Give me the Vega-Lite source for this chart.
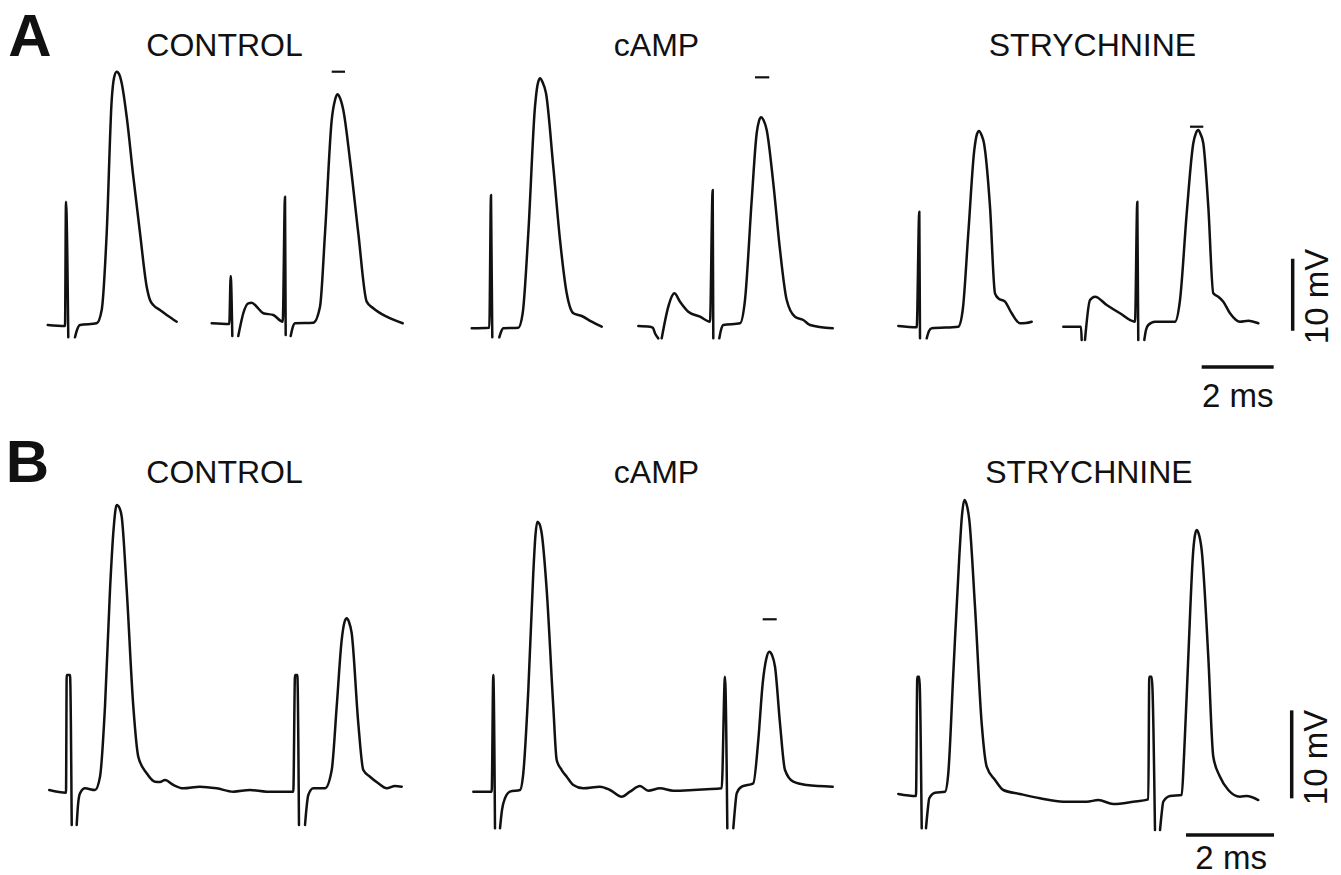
{
"$schema": "https://vega.github.io/schema/vega-lite/v6.json",
"background": "white",
"padding": 0,
"spacing": 0,
"bounds": "flush",
"config": {"view": {"stroke": null}, "font": "Liberation Sans"},
"datasets": {
"traceA": [
{"s":"A1a","t":1.325,"v":0},{"s":"A1a","t":1.806,"v":-0.14},{"s":"A1a","t":1.833,"v":17.13},{"s":"A1a","t":1.897,"v":-1.71},
{"s":"A1b","t":2.083,"v":-1.71},{"s":"A1b","t":2.139,"v":-0.69},{"s":"A1b","t":2.222,"v":0},{"s":"A1b","t":2.686,"v":0.24},{"s":"A1b","t":2.825,"v":2.08},{"s":"A1b","t":2.964,"v":12.78},{"s":"A1b","t":3.103,"v":31.25},{"s":"A1b","t":3.167,"v":34.31},{"s":"A1b","t":3.242,"v":35.18},{"s":"A1b","t":3.319,"v":34.72},{"s":"A1b","t":3.381,"v":33.57},{"s":"A1b","t":3.519,"v":28.93},{"s":"A1b","t":3.703,"v":20.6},{"s":"A1b","t":3.889,"v":12.78},{"s":"A1b","t":4.075,"v":5.32},{"s":"A1b","t":4.167,"v":3.47},{"s":"A1b","t":4.258,"v":2.78},{"s":"A1b","t":4.444,"v":2.08},{"s":"A1b","t":4.631,"v":1.39},{"s":"A1b","t":4.908,"v":0.46},
{"s":"A2a","t":5.881,"v":0.24},{"s":"A2a","t":6.369,"v":0.14},{"s":"A2a","t":6.408,"v":6.81},{"s":"A2a","t":6.453,"v":-1.53},
{"s":"A2b","t":6.619,"v":-1.53},{"s":"A2b","t":6.681,"v":0},{"s":"A2b","t":6.758,"v":1.63},{"s":"A2b","t":6.897,"v":3.01},{"s":"A2b","t":6.992,"v":3.1},{"s":"A2b","t":7.131,"v":2.54},{"s":"A2b","t":7.314,"v":1.63},{"s":"A2b","t":7.592,"v":1.39},{"s":"A2b","t":7.853,"v":0.46},{"s":"A2b","t":7.917,"v":17.82},{"s":"A2b","t":7.936,"v":-1.39},
{"s":"A2c","t":8.075,"v":-1.53},{"s":"A2c","t":8.125,"v":-0.42},{"s":"A2c","t":8.194,"v":0.24},{"s":"A2c","t":8.703,"v":0.32},{"s":"A2c","t":8.889,"v":2.54},{"s":"A2c","t":9.028,"v":12.74},{"s":"A2c","t":9.214,"v":28.47},{"s":"A2c","t":9.306,"v":31.25},{"s":"A2c","t":9.369,"v":32.04},{"s":"A2c","t":9.444,"v":31.53},{"s":"A2c","t":9.536,"v":29.86},{"s":"A2c","t":9.722,"v":22.92},{"s":"A2c","t":9.953,"v":12.74},{"s":"A2c","t":10.186,"v":3.24},{"s":"A2c","t":10.369,"v":2.32},{"s":"A2c","t":10.742,"v":1.15},{"s":"A2c","t":11.186,"v":0.24},
{"s":"A3a","t":13.103,"v":-0.46},{"s":"A3a","t":13.592,"v":-0.38},{"s":"A3a","t":13.639,"v":18.06},{"s":"A3a","t":13.675,"v":-1.71},
{"s":"A3b","t":13.869,"v":-1.71},{"s":"A3b","t":13.917,"v":-0.97},{"s":"A3b","t":13.981,"v":-0.46},{"s":"A3b","t":14.397,"v":-0.38},{"s":"A3b","t":14.519,"v":1.63},{"s":"A3b","t":14.675,"v":12.74},{"s":"A3b","t":14.861,"v":30.32},{"s":"A3b","t":14.931,"v":33.33},{"s":"A3b","t":15.0,"v":34.26},{"s":"A3b","t":15.069,"v":33.75},{"s":"A3b","t":15.167,"v":32.18},{"s":"A3b","t":15.369,"v":21.99},{"s":"A3b","t":15.556,"v":11.81},{"s":"A3b","t":15.742,"v":4.4},{"s":"A3b","t":15.925,"v":1.63},{"s":"A3b","t":16.158,"v":1.25},{"s":"A3b","t":16.436,"v":0.46},{"s":"A3b","t":16.714,"v":-0.24},
{"s":"A4a","t":17.731,"v":-0.14},{"s":"A4a","t":18.056,"v":-0.24},{"s":"A4a","t":18.139,"v":-0.42},{"s":"A4a","t":18.194,"v":-1.15},{"s":"A4a","t":18.286,"v":-1.85},
{"s":"A4b","t":18.381,"v":-1.85},{"s":"A4b","t":18.564,"v":2.54},{"s":"A4b","t":18.667,"v":4.03},{"s":"A4b","t":18.731,"v":4.4},{"s":"A4b","t":18.889,"v":3.24},{"s":"A4b","t":19.119,"v":1.85},{"s":"A4b","t":19.444,"v":1.15},{"s":"A4b","t":19.722,"v":0.46},{"s":"A4b","t":19.797,"v":18.75},{"s":"A4b","t":19.814,"v":-1.85},
{"s":"A4c","t":19.981,"v":-1.85},{"s":"A4c","t":20.028,"v":-0.69},{"s":"A4c","t":20.092,"v":0},{"s":"A4c","t":20.556,"v":0.24},{"s":"A4c","t":20.694,"v":3.47},{"s":"A4c","t":20.881,"v":17.36},{"s":"A4c","t":21.019,"v":26.63},{"s":"A4c","t":21.083,"v":28.33},{"s":"A4c","t":21.139,"v":28.85},{"s":"A4c","t":21.208,"v":28.47},{"s":"A4c","t":21.297,"v":27.08},{"s":"A4c","t":21.481,"v":19.68},{"s":"A4c","t":21.667,"v":10.42},{"s":"A4c","t":21.853,"v":3.47},{"s":"A4c","t":22.083,"v":1.15},{"s":"A4c","t":22.314,"v":0.69},{"s":"A4c","t":22.5,"v":0},{"s":"A4c","t":23.131,"v":-0.46},
{"s":"A5a","t":24.953,"v":-0.14},{"s":"A5a","t":25.464,"v":-0.32},{"s":"A5a","t":25.536,"v":15.74},{"s":"A5a","t":25.556,"v":-1.85},
{"s":"A5b","t":25.742,"v":-1.85},{"s":"A5b","t":25.806,"v":-0.83},{"s":"A5b","t":25.881,"v":-0.46},{"s":"A5b","t":26.619,"v":-0.24},{"s":"A5b","t":26.742,"v":2.08},{"s":"A5b","t":26.897,"v":12.74},{"s":"A5b","t":27.064,"v":24.31},{"s":"A5b","t":27.139,"v":26.53},{"s":"A5b","t":27.194,"v":26.94},{"s":"A5b","t":27.264,"v":26.39},{"s":"A5b","t":27.333,"v":25.24},{"s":"A5b","t":27.5,"v":16.43},{"s":"A5b","t":27.639,"v":4.4},{"s":"A5b","t":27.731,"v":3.71},{"s":"A5b","t":27.917,"v":3.24},{"s":"A5b","t":28.103,"v":1.63},{"s":"A5b","t":28.333,"v":0.24},{"s":"A5b","t":28.5,"v":0.28},{"s":"A5b","t":28.658,"v":0.46},
{"s":"A6a","t":29.536,"v":-0.24},{"s":"A6a","t":30.028,"v":-0.24},{"s":"A6a","t":30.047,"v":-2.08},
{"s":"A6b","t":30.139,"v":-2.08},{"s":"A6b","t":30.278,"v":3.47},{"s":"A6b","t":30.417,"v":3.93},{"s":"A6b","t":30.742,"v":2.78},{"s":"A6b","t":31.111,"v":1.63},{"s":"A6b","t":31.528,"v":0.46},{"s":"A6b","t":31.592,"v":17.13},{"s":"A6b","t":31.619,"v":-2.08},
{"s":"A6c","t":31.786,"v":-2.08},{"s":"A6c","t":31.833,"v":-0.69},{"s":"A6c","t":31.897,"v":0},{"s":"A6c","t":32.083,"v":0.46},{"s":"A6c","t":32.639,"v":0.46},{"s":"A6c","t":32.778,"v":3.47},{"s":"A6c","t":32.964,"v":15.51},{"s":"A6c","t":33.147,"v":25.24},{"s":"A6c","t":33.222,"v":26.67},{"s":"A6c","t":33.286,"v":27.08},{"s":"A6c","t":33.347,"v":26.53},{"s":"A6c","t":33.425,"v":25.24},{"s":"A6c","t":33.564,"v":16.43},{"s":"A6c","t":33.703,"v":4.4},{"s":"A6c","t":33.842,"v":3.93},{"s":"A6c","t":33.981,"v":3.24},{"s":"A6c","t":34.167,"v":1.63},{"s":"A6c","t":34.444,"v":0.46},{"s":"A6c","t":34.675,"v":0.6},{"s":"A6c","t":34.953,"v":0.24}
],
"traceB": [
{"s":"B1a","t":1.12,"v":0},{"s":"B1a","t":1.5,"v":-0.31},{"s":"B1a","t":1.516,"v":13.07},{"s":"B1a","t":1.591,"v":13.07},{"s":"B1a","t":1.63,"v":-3.98},
{"s":"B1b","t":1.743,"v":-3.98},{"s":"B1b","t":1.773,"v":-1.7},{"s":"B1b","t":1.818,"v":-0.38},{"s":"B1b","t":1.932,"v":0.19},{"s":"B1b","t":2.159,"v":0},{"s":"B1b","t":2.273,"v":1.51},{"s":"B1b","t":2.386,"v":9.47},{"s":"B1b","t":2.5,"v":22.73},{"s":"B1b","t":2.58,"v":29.55},{"s":"B1b","t":2.652,"v":32.39},{"s":"B1b","t":2.716,"v":32.05},{"s":"B1b","t":2.766,"v":31.06},{"s":"B1b","t":2.88,"v":22.73},{"s":"B1b","t":3.03,"v":9.47},{"s":"B1b","t":3.143,"v":3.78},{"s":"B1b","t":3.334,"v":1.9},{"s":"B1b","t":3.523,"v":0.94},{"s":"B1b","t":3.636,"v":0.91},{"s":"B1b","t":3.75,"v":1.14},{"s":"B1b","t":3.939,"v":0.57},{"s":"B1b","t":4.166,"v":0.19},{"s":"B1b","t":4.545,"v":0.38},{"s":"B1b","t":4.925,"v":0.19},{"s":"B1b","t":5.302,"v":-0.19},{"s":"B1b","t":5.682,"v":0},{"s":"B1b","t":6.061,"v":-0.19},{"s":"B1b","t":6.666,"v":-0.19},{"s":"B1b","t":6.705,"v":13.07},{"s":"B1b","t":6.757,"v":13.07},{"s":"B1b","t":6.795,"v":-3.98},
{"s":"B1c","t":6.932,"v":-3.98},{"s":"B1c","t":6.966,"v":-2.05},{"s":"B1c","t":7.007,"v":-0.57},{"s":"B1c","t":7.12,"v":0.19},{"s":"B1c","t":7.386,"v":0.19},{"s":"B1c","t":7.539,"v":2.27},{"s":"B1c","t":7.652,"v":9.47},{"s":"B1c","t":7.766,"v":17.05},{"s":"B1c","t":7.83,"v":19.09},{"s":"B1c","t":7.88,"v":19.51},{"s":"B1c","t":7.932,"v":19.09},{"s":"B1c","t":7.993,"v":17.81},{"s":"B1c","t":8.143,"v":7.58},{"s":"B1c","t":8.257,"v":2.27},{"s":"B1c","t":8.409,"v":1.51},{"s":"B1c","t":8.598,"v":0.76},{"s":"B1c","t":8.789,"v":0.19},{"s":"B1c","t":8.977,"v":0.45},{"s":"B1c","t":9.13,"v":0.38},
{"s":"B3a","t":10.757,"v":-0.19},{"s":"B3a","t":11.175,"v":-0.19},{"s":"B3a","t":11.211,"v":13.07},{"s":"B3a","t":11.25,"v":-4.35},
{"s":"B3b","t":11.364,"v":-4.35},{"s":"B3b","t":11.409,"v":-2.27},{"s":"B3b","t":11.477,"v":-0.94},{"s":"B3b","t":11.591,"v":-0.19},{"s":"B3b","t":11.818,"v":0},{"s":"B3b","t":11.893,"v":1.9},{"s":"B3b","t":12.007,"v":11.36},{"s":"B3b","t":12.12,"v":24.63},{"s":"B3b","t":12.17,"v":28.98},{"s":"B3b","t":12.211,"v":30.49},{"s":"B3b","t":12.261,"v":30.23},{"s":"B3b","t":12.311,"v":29.17},{"s":"B3b","t":12.425,"v":22.73},{"s":"B3b","t":12.575,"v":9.47},{"s":"B3b","t":12.652,"v":3.41},{"s":"B3b","t":12.766,"v":2.27},{"s":"B3b","t":12.88,"v":1.51},{"s":"B3b","t":13.03,"v":0.57},{"s":"B3b","t":13.257,"v":0.19},{"s":"B3b","t":13.636,"v":0.38},{"s":"B3b","t":13.864,"v":0},{"s":"B3b","t":14.13,"v":-0.76},{"s":"B3b","t":14.318,"v":-0.19},{"s":"B3b","t":14.545,"v":0.45},{"s":"B3b","t":14.734,"v":-0.08},{"s":"B3b","t":15.0,"v":0.19},{"s":"B3b","t":15.302,"v":-0.08},{"s":"B3b","t":15.757,"v":0},{"s":"B3b","t":16.061,"v":0.08},{"s":"B3b","t":16.402,"v":0.19},{"s":"B3b","t":16.477,"v":12.88},{"s":"B3b","t":16.53,"v":-4.35},
{"s":"B3c","t":16.666,"v":-4.35},{"s":"B3c","t":16.705,"v":-2.05},{"s":"B3c","t":16.743,"v":-0.38},{"s":"B3c","t":16.857,"v":0.38},{"s":"B3c","t":17.12,"v":0.76},{"s":"B3c","t":17.234,"v":5.68},{"s":"B3c","t":17.334,"v":12.13},{"s":"B3c","t":17.42,"v":15.0},{"s":"B3c","t":17.484,"v":15.72},{"s":"B3c","t":17.545,"v":15.34},{"s":"B3c","t":17.614,"v":14.01},{"s":"B3c","t":17.727,"v":7.58},{"s":"B3c","t":17.841,"v":2.27},{"s":"B3c","t":18.03,"v":0.94},{"s":"B3c","t":18.334,"v":0.57},{"s":"B3c","t":18.925,"v":0.38},
{"s":"B5a","t":20.416,"v":-0.45},{"s":"B5a","t":20.818,"v":-0.68},{"s":"B5a","t":20.848,"v":12.88},{"s":"B5a","t":20.893,"v":12.88},{"s":"B5a","t":20.948,"v":-4.35},
{"s":"B5b","t":21.045,"v":-4.35},{"s":"B5b","t":21.08,"v":-2.5},{"s":"B5b","t":21.12,"v":-0.94},{"s":"B5b","t":21.25,"v":-0.31},{"s":"B5b","t":21.477,"v":-0.19},{"s":"B5b","t":21.552,"v":1.9},{"s":"B5b","t":21.666,"v":13.26},{"s":"B5b","t":21.802,"v":26.51},{"s":"B5b","t":21.864,"v":31.25},{"s":"B5b","t":21.916,"v":32.95},{"s":"B5b","t":21.966,"v":32.5},{"s":"B5b","t":22.03,"v":30.68},{"s":"B5b","t":22.159,"v":20.83},{"s":"B5b","t":22.311,"v":7.58},{"s":"B5b","t":22.425,"v":2.65},{"s":"B5b","t":22.614,"v":1.14},{"s":"B5b","t":22.802,"v":0},{"s":"B5b","t":23.182,"v":-0.45},{"s":"B5b","t":23.636,"v":-0.94},{"s":"B5b","t":24.166,"v":-1.33},{"s":"B5b","t":24.698,"v":-1.33},{"s":"B5b","t":24.961,"v":-1.14},{"s":"B5b","t":25.302,"v":-1.59},{"s":"B5b","t":25.757,"v":-1.33},{"s":"B5b","t":26.098,"v":-1.06},{"s":"B5b","t":26.12,"v":12.88},{"s":"B5b","t":26.175,"v":12.88},{"s":"B5b","t":26.25,"v":-4.55},
{"s":"B5c","t":26.364,"v":-4.55},{"s":"B5c","t":26.398,"v":-2.84},{"s":"B5c","t":26.439,"v":-1.33},{"s":"B5c","t":26.591,"v":-0.68},{"s":"B5c","t":26.857,"v":-0.57},{"s":"B5c","t":26.909,"v":3.78},{"s":"B5c","t":27.007,"v":15.15},{"s":"B5c","t":27.12,"v":27.27},{"s":"B5c","t":27.159,"v":28.98},{"s":"B5c","t":27.198,"v":29.55},{"s":"B5c","t":27.239,"v":29.2},{"s":"B5c","t":27.311,"v":27.27},{"s":"B5c","t":27.461,"v":15.15},{"s":"B5c","t":27.575,"v":3.78},{"s":"B5c","t":27.727,"v":1.51},{"s":"B5c","t":27.916,"v":0},{"s":"B5c","t":28.182,"v":-0.76},{"s":"B5c","t":28.334,"v":-0.68},{"s":"B5c","t":28.598,"v":-1.14}
],
"markA": [{"t":9.214,"t2":9.583,"v":35.18},{"t":20.972,"t2":21.369,"v":34.4},{"t":33.056,"t2":33.425,"v":27.54}],
"markB": [{"t":17.334,"t2":17.652,"v":19.4}],
"barA": [{"t":35.908,"t2":35.908,"v":-0.8,"v2":9.2},{"t":33.38,"t2":35.38,"v":-5.83,"v2":-5.83}],
"barB": [{"t":29.357,"t2":29.357,"v":-0.95,"v2":9.05},{"t":26.955,"t2":28.955,"v":-5.11,"v2":-5.11}],
"letterA": [{"label":"A","t":0.833,"v":37.36}],
"letterB": [{"label":"B","t":0.625,"v":35.0}],
"titleA": [{"label":"CONTROL","t":6.236,"v":37.36},{"label":"cAMP","t":18.236,"v":37.36},{"label":"STRYCHNINE","t":30.347,"v":37.36}],
"titleB": [{"label":"CONTROL","t":5.102,"v":34.89},{"label":"cAMP","t":14.92,"v":34.89},{"label":"STRYCHNINE","t":24.75,"v":34.89}],
"unitA": [{"label":"2 ms","t":34.38,"v":-11.35},{"label":"10 mV","t":36.889,"v":3.96}],
"unitB": [{"label":"2 ms","t":27.98,"v":-8.95},{"label":"10 mV","t":30.159,"v":3.69}]
},
"vconcat": [
{
"width": 1341, "height": 437,
"layer": [
{"data": {"name": "traceA"}, "mark": {"type": "line", "stroke": "#111", "strokeWidth": 2.5, "strokeJoin": "round", "strokeCap": "round", "interpolate": "monotone"},
 "encoding": {"x": {"field": "t", "type": "quantitative", "scale": {"domain": [0, 37.25], "nice": false, "zero": false}, "axis": null},
  "y": {"field": "v", "type": "quantitative", "scale": {"domain": [-15.556, 45.139], "nice": false, "zero": false}, "axis": null},
  "detail": {"field": "s"}}},
{"data": {"name": "markA"}, "mark": {"type": "rule", "stroke": "#111", "strokeWidth": 2.2},
 "encoding": {"x": {"field": "t", "type": "quantitative"}, "x2": {"field": "t2"}, "y": {"field": "v", "type": "quantitative"}}},
{"data": {"name": "barA"}, "mark": {"type": "rule", "stroke": "#111", "strokeWidth": 3.5},
 "encoding": {"x": {"field": "t", "type": "quantitative"}, "x2": {"field": "t2"}, "y": {"field": "v", "type": "quantitative"}, "y2": {"field": "v2"}}},
{"data": {"name": "letterA"}, "mark": {"type": "text", "fontSize": 60, "fontWeight": "bold", "align": "center", "baseline": "alphabetic", "color": "#111"},
 "encoding": {"x": {"field": "t", "type": "quantitative"}, "y": {"field": "v", "type": "quantitative"}, "text": {"field": "label"}}},
{"data": {"name": "titleA"}, "mark": {"type": "text", "fontSize": 32, "align": "center", "baseline": "alphabetic", "color": "#111"},
 "encoding": {"x": {"field": "t", "type": "quantitative"}, "y": {"field": "v", "type": "quantitative"}, "text": {"field": "label"}}},
{"data": {"name": "unitA"}, "transform": [{"filter": "datum.label === '2 ms'"}], "mark": {"type": "text", "fontSize": 33, "align": "center", "baseline": "alphabetic", "color": "#111"},
 "encoding": {"x": {"field": "t", "type": "quantitative"}, "y": {"field": "v", "type": "quantitative"}, "text": {"field": "label"}}},
{"data": {"name": "unitA"}, "transform": [{"filter": "datum.label === '10 mV'"}], "mark": {"type": "text", "fontSize": 33, "align": "center", "baseline": "alphabetic", "angle": 270, "color": "#111"},
 "encoding": {"x": {"field": "t", "type": "quantitative"}, "y": {"field": "v", "type": "quantitative"}, "text": {"field": "label"}}}
]
},
{
"width": 1341, "height": 438,
"layer": [
{"data": {"name": "traceB"}, "mark": {"type": "line", "stroke": "#111", "strokeWidth": 2.5, "strokeJoin": "round", "strokeCap": "round", "interpolate": "monotone"},
 "encoding": {"x": {"field": "t", "type": "quantitative", "scale": {"domain": [0, 30.4773], "nice": false, "zero": false}, "axis": null},
  "y": {"field": "v", "type": "quantitative", "scale": {"domain": [-9.659, 40.114], "nice": false, "zero": false}, "axis": null},
  "detail": {"field": "s"}}},
{"data": {"name": "markB"}, "mark": {"type": "rule", "stroke": "#111", "strokeWidth": 2.2},
 "encoding": {"x": {"field": "t", "type": "quantitative"}, "x2": {"field": "t2"}, "y": {"field": "v", "type": "quantitative"}}},
{"data": {"name": "barB"}, "mark": {"type": "rule", "stroke": "#111", "strokeWidth": 3.5},
 "encoding": {"x": {"field": "t", "type": "quantitative"}, "x2": {"field": "t2"}, "y": {"field": "v", "type": "quantitative"}, "y2": {"field": "v2"}}},
{"data": {"name": "letterB"}, "mark": {"type": "text", "fontSize": 60, "fontWeight": "bold", "align": "center", "baseline": "alphabetic", "color": "#111"},
 "encoding": {"x": {"field": "t", "type": "quantitative"}, "y": {"field": "v", "type": "quantitative"}, "text": {"field": "label"}}},
{"data": {"name": "titleB"}, "mark": {"type": "text", "fontSize": 32, "align": "center", "baseline": "alphabetic", "color": "#111"},
 "encoding": {"x": {"field": "t", "type": "quantitative"}, "y": {"field": "v", "type": "quantitative"}, "text": {"field": "label"}}},
{"data": {"name": "unitB"}, "transform": [{"filter": "datum.label === '2 ms'"}], "mark": {"type": "text", "fontSize": 33, "align": "center", "baseline": "alphabetic", "color": "#111"},
 "encoding": {"x": {"field": "t", "type": "quantitative"}, "y": {"field": "v", "type": "quantitative"}, "text": {"field": "label"}}},
{"data": {"name": "unitB"}, "transform": [{"filter": "datum.label === '10 mV'"}], "mark": {"type": "text", "fontSize": 33, "align": "center", "baseline": "alphabetic", "angle": 270, "color": "#111"},
 "encoding": {"x": {"field": "t", "type": "quantitative"}, "y": {"field": "v", "type": "quantitative"}, "text": {"field": "label"}}}
]
}
]
}
